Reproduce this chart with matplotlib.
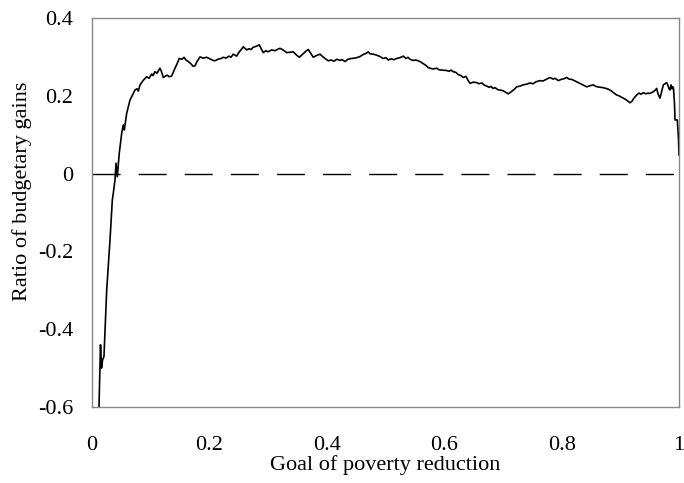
import matplotlib
matplotlib.use("Agg")
import matplotlib.pyplot as plt

goal = [0.0119, 0.0145, 0.0162, 0.0179, 0.0204, 0.0250, 0.0307, 0.0346, 0.0363, 0.0392,
        0.0409, 0.0431, 0.0465, 0.0506, 0.0533, 0.0550, 0.0591, 0.0647, 0.0704, 0.0733,
        0.0767, 0.0789, 0.0818, 0.0874, 0.0932, 0.0971, 0.1017, 0.1039, 0.1073, 0.1107,
        0.1158, 0.1184, 0.1215, 0.1244, 0.1283, 0.1312, 0.1358, 0.1414, 0.1448, 0.1487,
        0.1533, 0.1567, 0.1601, 0.1641, 0.1687, 0.1721, 0.1755, 0.1789, 0.1840, 0.1891,
        0.1954, 0.2010, 0.2061, 0.2095, 0.2147, 0.2198, 0.2237, 0.2283, 0.2334, 0.2368,
        0.2407, 0.2465, 0.2504, 0.2538, 0.2578, 0.2635, 0.2675, 0.2709, 0.2748, 0.2794,
        0.2850, 0.2879, 0.2918, 0.2964, 0.2998, 0.3061, 0.3118, 0.3169, 0.3203, 0.3254,
        0.3317, 0.3373, 0.3429, 0.3475, 0.3532, 0.3560, 0.3600, 0.3646, 0.3685, 0.3714,
        0.3770, 0.3816, 0.3884, 0.3935, 0.3969, 0.4026, 0.4072, 0.4123, 0.4169, 0.4225,
        0.4259, 0.4310, 0.4361, 0.4424, 0.4480, 0.4532, 0.4566, 0.4617, 0.4668, 0.4707,
        0.4736, 0.4792, 0.4838, 0.4906, 0.4957, 0.5009, 0.5048, 0.5094, 0.5145, 0.5191,
        0.5247, 0.5303, 0.5349, 0.5383, 0.5417, 0.5468, 0.5520, 0.5588, 0.5639, 0.5690,
        0.5724, 0.5758, 0.5809, 0.5872, 0.5911, 0.5963, 0.6043, 0.6082, 0.6116, 0.6155,
        0.6201, 0.6235, 0.6286, 0.6325, 0.6371, 0.6405, 0.6440, 0.6491, 0.6554, 0.6593,
        0.6644, 0.6678, 0.6724, 0.6763, 0.6797, 0.6831, 0.6865, 0.6922, 0.6951, 0.7002,
        0.7036, 0.7092, 0.7138, 0.7189, 0.7235, 0.7291, 0.7342, 0.7405, 0.7462, 0.7513,
        0.7564, 0.7632, 0.7683, 0.7734, 0.7802, 0.7853, 0.7888, 0.7944, 0.7990, 0.8041,
        0.8087, 0.8126, 0.8177, 0.8257, 0.8313, 0.8365, 0.8428, 0.8484, 0.8540, 0.8586,
        0.8654, 0.8705, 0.8756, 0.8796, 0.8842, 0.8893, 0.8939, 0.8978, 0.9012, 0.9051,
        0.9097, 0.9131, 0.9165, 0.9199, 0.9233, 0.9279, 0.9319, 0.9353, 0.9392, 0.9438,
        0.9472, 0.9506, 0.9557, 0.9591, 0.9620, 0.9642, 0.9676, 0.9702, 0.9733, 0.9761,
        0.9790, 0.9813, 0.9830, 0.9847, 0.9864, 0.9881, 0.9893, 0.9906, 0.9923, 0.9932,
        0.9971, 0.9991, 1.0000]

ratio = [-0.600, -0.440, -0.500, -0.480, -0.470, -0.300, -0.170, -0.068, -0.050, -0.016,
         0.027, -0.008, 0.053, 0.104, 0.125, 0.112, 0.155, 0.189, 0.206, 0.215,
         0.218, 0.212, 0.228, 0.240, 0.249, 0.245, 0.256, 0.252, 0.262, 0.258,
         0.271, 0.262, 0.247, 0.250, 0.253, 0.249, 0.251, 0.271, 0.282, 0.296,
         0.294, 0.299, 0.292, 0.288, 0.282, 0.276, 0.277, 0.288, 0.300, 0.297,
         0.299, 0.295, 0.291, 0.290, 0.294, 0.296, 0.299, 0.297, 0.302, 0.299,
         0.307, 0.302, 0.312, 0.318, 0.326, 0.318, 0.321, 0.319, 0.325, 0.327,
         0.331, 0.322, 0.311, 0.316, 0.313, 0.318, 0.316, 0.320, 0.322, 0.318,
         0.311, 0.312, 0.313, 0.306, 0.299, 0.303, 0.309, 0.315, 0.319, 0.312,
         0.299, 0.303, 0.307, 0.300, 0.296, 0.290, 0.292, 0.289, 0.294, 0.291,
         0.293, 0.288, 0.294, 0.296, 0.297, 0.299, 0.301, 0.306, 0.309, 0.313,
         0.308, 0.307, 0.305, 0.301, 0.296, 0.298, 0.292, 0.295, 0.293, 0.296,
         0.298, 0.302, 0.296, 0.299, 0.294, 0.291, 0.292, 0.288, 0.283, 0.278,
         0.273, 0.271, 0.269, 0.271, 0.267, 0.266, 0.265, 0.263, 0.266, 0.262,
         0.260, 0.255, 0.252, 0.247, 0.250, 0.240, 0.232, 0.235, 0.234, 0.231,
         0.233, 0.228, 0.225, 0.222, 0.224, 0.219, 0.221, 0.215, 0.215, 0.213,
         0.210, 0.205, 0.210, 0.216, 0.223, 0.225, 0.228, 0.230, 0.233, 0.231,
         0.236, 0.239, 0.238, 0.242, 0.247, 0.243, 0.245, 0.239, 0.242, 0.244,
         0.247, 0.243, 0.242, 0.236, 0.232, 0.228, 0.223, 0.226, 0.228, 0.224,
         0.222, 0.221, 0.219, 0.217, 0.213, 0.207, 0.202, 0.200, 0.197, 0.194,
         0.190, 0.186, 0.182, 0.186, 0.194, 0.202, 0.207, 0.204, 0.208, 0.205,
         0.207, 0.206, 0.210, 0.214, 0.219, 0.205, 0.194, 0.210, 0.228, 0.231,
         0.234, 0.226, 0.218, 0.215, 0.228, 0.218, 0.223, 0.220, 0.180, 0.138,
         0.138, 0.090, 0.048]

xticks = [0, 0.2, 0.4, 0.6, 0.8, 1]
xticklabels = ["0", "0.2", "0.4", "0.6", "0.8", "1"]
yticks = [-0.6, -0.4, -0.2, 0, 0.2, 0.4]
yticklabels = ["-0.6", "-0.4", "-0.2", "0", "0.2", "0.4"]

plt.rcParams['font.family'] = ['Liberation Serif', 'DejaVu Serif']

fig = plt.figure(figsize=(6.84, 4.83), dpi=100)
ax = fig.add_axes([92/684, 1 - 407/483, (679 - 92)/684, (407 - 18)/483])

ax.axhline(0, color='black', lw=1.0, dashes=(20.2, 13.0), zorder=1)
ax.plot(goal, ratio, color='black', lw=1.2, zorder=2)

ax.set_xlim(0, 1)
ax.set_ylim(-0.6, 0.4)
ax.set_xticks(xticks)
ax.set_xticklabels(xticklabels)
ax.set_yticks(yticks)
ax.set_yticklabels(yticklabels)
ax.tick_params(axis='both', length=0, labelsize=16, colors='black')
ax.tick_params(axis='x', pad=21)
ax.tick_params(axis='y', pad=13.5)

for s in ax.spines.values():
    s.set_color('#868686')
    s.set_linewidth(1.0)

ax.set_xlabel("Goal of poverty reduction", fontsize=16, labelpad=0)
ax.set_ylabel("Ratio of budgetary gains", fontsize=16, labelpad=4, y=0.554)

fig.savefig("out.png", dpi=100)
